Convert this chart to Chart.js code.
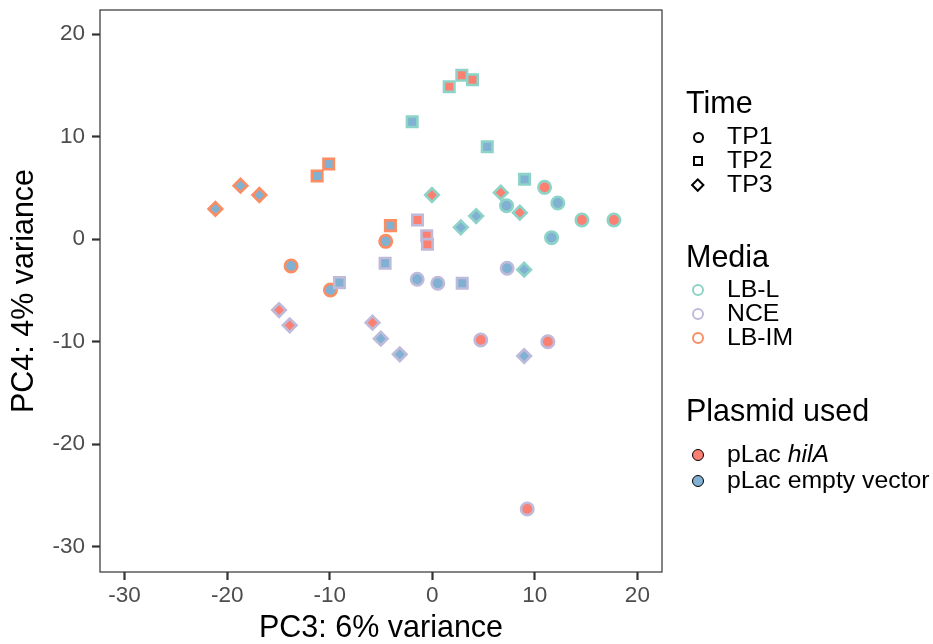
<!DOCTYPE html>
<html lang="en">
<head>
    <meta charset="UTF-8">
    <title>PCA - PC3 vs PC4</title>
    <script src="https://cdn.jsdelivr.net/npm/chart.js"></script>
    <style>
        body {
            margin: 0;
            background: white;
            font-family: "Liberation Sans", Arial, sans-serif;
        }
        .wrap {
            position: relative;
            width: 933px;
            height: 644px;
        }
        .legend {
            position: absolute;
            left: 686px;
            top: 0;
            color: #000;
        }
        .legend .title {
            position: absolute;
            font-size: 30.5px;
            white-space: nowrap;
            line-height: 1;
        }
        .legend .item {
            position: absolute;
            font-size: 24.8px;
            white-space: nowrap;
            line-height: 1;
        }
        .sym {
            position: absolute;
            box-sizing: border-box;
        }
    </style>
</head>
<body>
    <div class="wrap">
        <canvas id="pca" width="933" height="644"></canvas>
        <div class="legend" id="legend"></div>
    </div>
    <script>
        // sample scores on PC3 / PC4
        const pc3 = [
            10.95, 14.59, 17.71, 12.24, 11.63, 7.24,
            1.65, 2.88, 3.92, -1.96, 5.36, 9.0,
            -0.03, 6.68, 8.54, 4.28, 2.78, 8.96,
            4.73, 11.27, 9.26, -1.47, 0.54, 7.3,
            -1.44, -0.54, -0.47, -9.05, -4.6, 2.92,
            -14.94, -13.9, -5.83, -5.02, -3.17, 8.96,
            -13.77, -9.93, -4.54,
            -11.23, -10.1, -4.08,
            -21.15, -18.7, -16.86
        ];
        const pc4 = [
            5.07, 1.88, 1.88, 3.54, 0.16, 3.28,
            14.89, 16.0, 15.57, 11.47, 9.03, 5.85,
            4.32, 4.55, 2.6, 2.27, 1.17, -2.96,
            -9.82, -9.99, -26.31, -3.9, -4.29, -2.83,
            1.88, 0.35, -0.49, -4.23, -2.34, -4.29,
            -6.9, -8.39, -8.14, -9.7, -11.22, -11.39,
            -2.6, -4.95, -0.2,
            6.18, 7.35, 1.33,
            2.96, 5.23, 4.32
        ];
        const media = [
            'LB-L', 'LB-L', 'LB-L', 'LB-L', 'LB-L', 'LB-L',
            'LB-L', 'LB-L', 'LB-L', 'LB-L', 'LB-L', 'LB-L',
            'LB-L', 'LB-L', 'LB-L', 'LB-L', 'LB-L', 'LB-L',
            'NCE', 'NCE', 'NCE', 'NCE', 'NCE', 'NCE',
            'NCE', 'NCE', 'NCE', 'NCE', 'NCE', 'NCE',
            'NCE', 'NCE', 'NCE', 'NCE', 'NCE', 'NCE',
            'LB-IM', 'LB-IM', 'LB-IM',
            'LB-IM', 'LB-IM', 'LB-IM',
            'LB-IM', 'LB-IM', 'LB-IM'
        ];
        const timepoint = [
            'TP1', 'TP1', 'TP1', 'TP1', 'TP1', 'TP1',
            'TP2', 'TP2', 'TP2', 'TP2', 'TP2', 'TP2',
            'TP3', 'TP3', 'TP3', 'TP3', 'TP3', 'TP3',
            'TP1', 'TP1', 'TP1', 'TP1', 'TP1', 'TP1',
            'TP2', 'TP2', 'TP2', 'TP2', 'TP2', 'TP2',
            'TP3', 'TP3', 'TP3', 'TP3', 'TP3', 'TP3',
            'TP1', 'TP1', 'TP1',
            'TP2', 'TP2', 'TP2',
            'TP3', 'TP3', 'TP3'
        ];
        const plasmid = [
            'hilA', 'hilA', 'hilA', 'empty', 'empty', 'empty',
            'hilA', 'hilA', 'hilA', 'empty', 'empty', 'empty',
            'hilA', 'hilA', 'hilA', 'empty', 'empty', 'empty',
            'hilA', 'hilA', 'hilA', 'empty', 'empty', 'empty',
            'hilA', 'hilA', 'hilA', 'empty', 'empty', 'empty',
            'hilA', 'hilA', 'hilA', 'empty', 'empty', 'empty',
            'empty', 'empty', 'empty',
            'empty', 'empty', 'empty',
            'empty', 'empty', 'empty'
        ];

        const xTicks = [-30, -20, -10, 0, 10, 20];
        const yTicks = [-30, -20, -10, 0, 10, 20];

        const timeLevels = ['TP1', 'TP2', 'TP3'];
        const mediaLevels = ['LB-L', 'NCE', 'LB-IM'];
        const plasmidLevels = ['hilA', 'empty'];

        const mediaColor = { 'LB-L': '#8DD3C7', 'NCE': '#BEBADA', 'LB-IM': '#FC8D62' };
        const plasmidColor = { 'hilA': '#FB8072', 'empty': '#80B1D3' };
        const timeShape = { 'TP1': 'circle', 'TP2': 'rect', 'TP3': 'rectRot' };
        const shapeRadius = { 'TP1': 6.2, 'TP2': 7.4, 'TP3': 6.8 };

        // one dataset per media / time combination, fill colour per point
        const datasets = [];
        mediaLevels.forEach(m => {
            timeLevels.forEach(t => {
                const pts = [], fills = [];
                pc3.forEach((v, i) => {
                    if (media[i] === m && timepoint[i] === t) {
                        pts.push({ x: v, y: pc4[i] });
                        fills.push(plasmidColor[plasmid[i]]);
                    }
                });
                if (!pts.length) return;
                datasets.push({
                    label: m + ' ' + t,
                    data: pts,
                    pointStyle: timeShape[t],
                    pointRadius: shapeRadius[t],
                    pointBorderWidth: 2.6,
                    pointBorderColor: mediaColor[m],
                    pointBackgroundColor: fills,
                    showLine: false
                });
            });
        });

        const panelBorder = {
            id: 'panelBorder',
            beforeDatasetsDraw(chart) {
                const { ctx, chartArea: a } = chart;
                ctx.save();
                ctx.strokeStyle = '#333333';
                ctx.lineWidth = 1.2;
                ctx.strokeRect(a.left, a.top, a.right - a.left, a.bottom - a.top);
                ctx.restore();
            }
        };

        const tickFont = { family: '"Liberation Sans", Arial, sans-serif', size: 22.5 };
        const titleFont = { family: '"Liberation Sans", Arial, sans-serif', size: 30.5, lineHeight: 1.0 };

        new Chart(document.getElementById('pca'), {
            type: 'scatter',
            data: { datasets },
            plugins: [panelBorder],
            options: {
                responsive: false,
                animation: false,
                events: [],
                layout: { padding: { left: 0, top: 10, right: 271, bottom: 0 } },
                plugins: { legend: { display: false }, tooltip: { enabled: false } },
                scales: {
                    x: {
                        type: 'linear',
                        min: -32.4,
                        max: 22.4,
                        afterBuildTicks: s => { s.ticks = xTicks.map(v => ({ value: v })); },
                        afterFit: s => { s.height = 72; s.paddingLeft = 0; s.paddingRight = 0; },
                        grid: { drawOnChartArea: false, tickLength: 8, tickColor: '#333333', tickWidth: 2.2 },
                        border: { display: false },
                        ticks: { color: '#4d4d4d', font: tickFont, padding: 2, maxRotation: 0 },
                        title: { display: true, text: 'PC3: 6% variance', color: '#000', font: titleFont, padding: { top: 0, bottom: 0 } }
                    },
                    y: {
                        type: 'linear',
                        min: -32.46,
                        max: 22.37,
                        afterBuildTicks: s => { s.ticks = yTicks.map(v => ({ value: v })); },
                        afterFit: s => { s.width = 100; s.paddingTop = 0; s.paddingBottom = 0; },
                        grid: { drawOnChartArea: false, tickLength: 8, tickColor: '#333333', tickWidth: 2.2 },
                        border: { display: false },
                        ticks: { color: '#4d4d4d', font: tickFont, padding: 7 },
                        title: { display: true, text: 'PC4: 4% variance', color: '#000', font: titleFont, padding: { top: 9.5, bottom: 0 } }
                    }
                }
            }
        });

        // legend drawn beside the panel
        const legend = document.getElementById('legend');
        function addTitle(text, cy) {
            const d = document.createElement('div');
            d.className = 'title';
            d.style.top = (cy - 16) + 'px';
            d.textContent = text;
            legend.appendChild(d);
        }
        function addItem(html, cy, sym) {
            const s = document.createElement('div');
            s.className = 'sym';
            Object.assign(s.style, sym);
            legend.appendChild(s);
            const d = document.createElement('div');
            d.className = 'item';
            d.style.left = '41px';
            d.style.top = (cy - 13) + 'px';
            d.innerHTML = html;
            legend.appendChild(d);
        }
        function symStyle(cx, cy, size, extra) {
            return Object.assign({
                left: (cx - size / 2) + 'px',
                top: (cy - size / 2) + 'px',
                width: size + 'px',
                height: size + 'px'
            }, extra);
        }

        addTitle('Time', 103);
        const timeY = [137, 161, 185];
        addItem('TP1', timeY[0], symStyle(12, timeY[0], 11, { border: '2px solid #000', borderRadius: '50%' }));
        addItem('TP2', timeY[1], symStyle(12, timeY[1], 10, { border: '2px solid #000' }));
        addItem('TP3', timeY[2], symStyle(12, timeY[2], 9.5, { border: '2px solid #000', transform: 'rotate(45deg)' }));

        addTitle('Media', 257);
        const mediaY = [290, 314, 338];
        mediaLevels.forEach((m, i) => {
            addItem(m, mediaY[i], symStyle(12, mediaY[i], 12, { border: '2px solid ' + mediaColor[m], borderRadius: '50%' }));
        });

        addTitle('Plasmid used', 411);
        const plasmidY = [455, 481];
        const plasmidText = ['pLac <i>hilA</i>', 'pLac empty vector'];
        plasmidLevels.forEach((p, i) => {
            addItem(plasmidText[i], plasmidY[i], symStyle(12, plasmidY[i], 12, { border: '1.5px solid #000', borderRadius: '50%', background: plasmidColor[p] }));
        });
    </script>
</body>
</html>
